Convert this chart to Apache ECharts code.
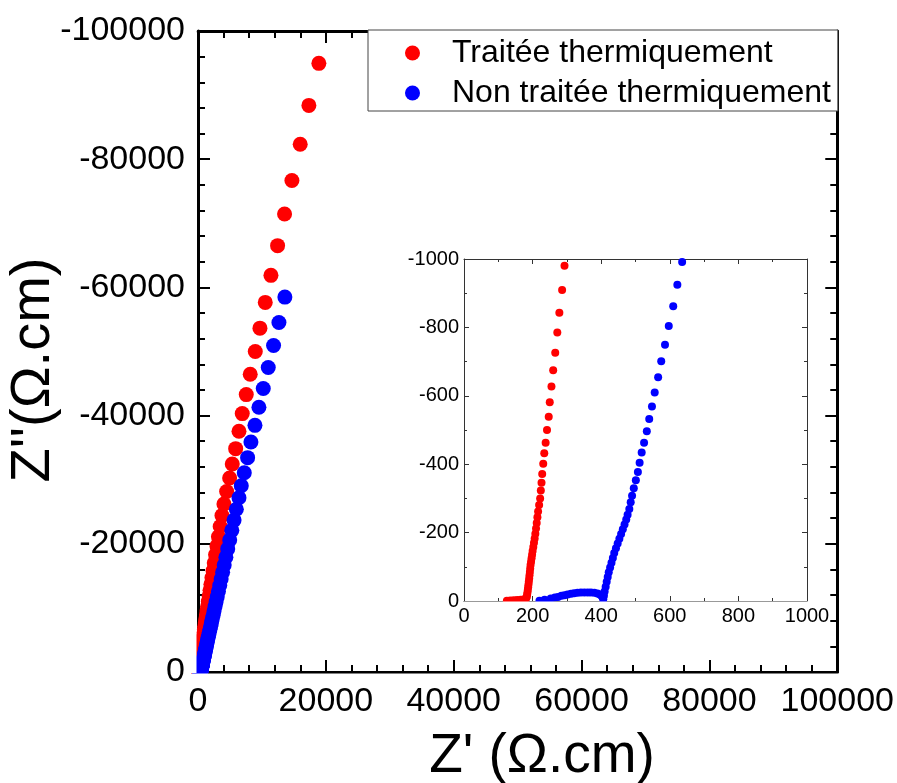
<!DOCTYPE html>
<html>
<head>
<meta charset="utf-8">
<script src="https://cdn.jsdelivr.net/npm/echarts@6/dist/echarts.min.js"></script>
<style>
html,body{margin:0;padding:0;background:#fff;}
#chart{width:897px;height:783px;}
</style>
</head>
<body>
<div id="chart"></div>
<script>
// ---- Data (Z' in Ω.cm, Z'' in Ω.cm) ----
const seriesNames = ['Traitée thermiquement', 'Non traitée thermiquement'];

const redX = [18906,17344,15990,14690,13540,12450,11410,10520,9690,8960,8170,7550,6920,6410,5890,5360,4950,4480,4060,
  3750,3470,3200,2960,2745,2540,2350,2180,2020,1880,1740,1615,1505,1405,1310,1220,1140,1065,995,935,880,825,775,730,690,650,615,585,555,525,500,478,457,436,418,400,386,371,357,345,334,324,314,303,
  293,286,278,272,266,260,255,250,247,242,238,234,231,228,226,224,222,219,
  216,214,212,210,208,206,204,202,200,198.5,197,195.5,194,193,192,191,190,189,188,187,186,185,184,183,181,
  175,165,155,145,135,125];
const redY = [-94950,-88390,-82340,-76670,-71450,-66510,-61880,-57660,-53640,-50000,-46450,-43280,-40310,-37550,-34840,-32450,-30270,-28170,-26200,
  -24400,-22700,-21100,-19650,-18300,-17000,-15800,-14700,-13700,-12750,-11850,-11000,-10250,-9550,-8880,-8260,-7690,-7150,-6650,-6190,-5760,-5360,-4990,-4640,-4320,-4020,-3740,-3480,-3240,-3010,-2800,-2610,-2430,-2260,-2100,-1950,-1820,-1690,-1570,-1460,-1360,-1265,-1175,-1080,
  -980,-909,-843,-785,-726,-675,-627,-581,-539,-500,-463,-432,-401,-371,-346,-323,-300,-281,
  -262,-245,-228,-212,-197,-183,-170,-158,-146,-135,-125,-115,-105,-95,-85,-75,-66,-57,-48,-40,-32,-25,-18,-12,-7,
  -5,-4,-3,-2,-1.5,-1];

const blueX = [13590,12660,11820,10990,10210,9530,8910,8280,7760,7240,6770,6410,
  6000,5640,5290,4960,4650,4360,4100,3850,3620,3400,3200,3010,2830,2670,2510,2370,2230,2110,1990,1880,1770,1680,1590,1510,1435,1370,1306,1248,1192,1140,1090,1044,1002,962,925,890,857,826,798,772,748,725,703,682,664,648,
  636,622,610,597,586,575,566,556,548,540,533,525,518,512,507,501,495,490,486,482,
  477,473,468,463,458,453,448,443,438,434,430,426,422,419,416,413,410,408,406,
  404,401,396,389,380,370,361,351,341,331,321,312,302,293,284,274,265,253,235,220];
const blueY = [-58490,-54530,-50940,-47500,-44220,-41300,-38480,-35890,-33440,-31090,-29060,-27190,
  -25400,-23700,-22100,-20600,-19200,-17900,-16700,-15550,-14500,-13500,-12600,-11750,-10950,-10200,-9500,-8850,-8250,-7700,-7150,-6650,-6200,-5780,-5380,-5010,-4670,-4350,-4050,-3780,-3520,-3280,-3050,-2840,-2650,-2470,-2300,-2140,-1990,-1850,-1720,-1600,-1490,-1390,-1290,-1200,-1120,-1050,
  -991,-925,-862,-804,-749,-701,-654,-610,-569,-532,-496,-463,-434,-404,-377,-353,-330,-308,-289,-269,
  -252,-238,-224,-210,-196,-182,-168,-154,-140,-126,-112,-98,-84,-70,-56,-42,-28,-15,-5,
  -11,-15,-19,-22,-24,-25,-25,-25,-25,-24,-23,-21,-19,-17,-15,-12,-10,-7,-4,-1];

// axis ranges / ticks
const mainXRange = [0, 100000], mainYRange = [-100000, 0], mainStep = 20000;
const insetXRange = [0, 1000], insetYRange = [-1000, 0], insetStep = 200;
const xTitle = "Z' (Ω.cm)";
const yTitle = "Z''(Ω.cm)";

// ---- Build ----
const zip = (xs, ys) => xs.map((x, i) => [x, ys[i]]);
const FONT = 'Liberation Sans, Arial, sans-serif';
const fmt = v => String(v);

function mainAxis(gridIndex, pos, range, showLabel, extra) {
  return Object.assign({
    type: 'value', gridIndex, position: pos,
    min: range[0], max: range[1], interval: mainStep,
    axisLine: { show: true, onZero: false, lineStyle: { color: '#000', width: 3 } },
    axisTick: { show: true, inside: true, length: 12, lineStyle: { color: '#000', width: 2 } },
    minorTick: { show: true, splitNumber: 5, length: 7, lineStyle: { color: '#000', width: 2 } },
    splitLine: { show: false }, minorSplitLine: { show: false },
    axisLabel: { show: showLabel, fontSize: 34, color: '#000', fontFamily: FONT, margin: 13, formatter: fmt }
  }, extra || {});
}
function insetAxis(gridIndex, pos, range, showLabel, extra) {
  return Object.assign({
    type: 'value', gridIndex, position: pos,
    min: range[0], max: range[1], interval: insetStep,
    axisLine: { show: true, onZero: false, lineStyle: { color: '#333', width: 1 } },
    axisTick: { show: true, inside: true, length: 5, lineStyle: { color: '#333', width: 1 } },
    minorTick: { show: true, splitNumber: 2, length: 3, lineStyle: { color: '#333', width: 1 } },
    splitLine: { show: false }, minorSplitLine: { show: false },
    axisLabel: { show: showLabel, fontSize: 20, color: '#000', fontFamily: FONT, margin: 5, formatter: fmt }
  }, extra || {});
}

const chart = echarts.init(document.getElementById('chart'), null, { renderer: 'canvas' });
chart.setOption({
  animation: false,
  backgroundColor: '#fff',
  grid: [
    { left: 198, top: 31, width: 641, height: 641 },
    { left: 464, top: 259, width: 343, height: 342, show: true, backgroundColor: '#fff', borderWidth: 0 }
  ],
  xAxis: [
    mainAxis(0, 'bottom', mainXRange, true),
    mainAxis(0, 'top', mainXRange, false),
    insetAxis(1, 'bottom', insetXRange, true),
    insetAxis(1, 'top', insetXRange, false)
  ],
  yAxis: [
    mainAxis(0, 'left', mainYRange, true, { inverse: true }),
    mainAxis(0, 'right', mainYRange, false, { inverse: true }),
    insetAxis(1, 'left', insetYRange, true, { inverse: true }),
    insetAxis(1, 'right', insetYRange, false, { inverse: true })
  ],
  legend: {
    data: seriesNames,
    orient: 'vertical', left: 368, top: 30,
    icon: 'circle', itemWidth: 15, itemHeight: 15, itemGap: 6,
    padding: [6, 7, 1, 37],
    borderColor: '#444', borderWidth: 1, backgroundColor: '#fff',
    selectedMode: false,
    textStyle: { fontSize: 32, color: '#000', fontFamily: FONT, lineHeight: 34, padding: [0, 0, 0, 27] }
  },
  series: [
    { name: seriesNames[0], type: 'scatter', xAxisIndex: 0, yAxisIndex: 0, data: zip(redX, redY), symbolSize: 15, itemStyle: { color: '#ff0000', opacity: 1 } },
    { name: seriesNames[1], type: 'scatter', xAxisIndex: 0, yAxisIndex: 0, data: zip(blueX, blueY), symbolSize: 15, itemStyle: { color: '#0000ff', opacity: 1 } },
    { name: seriesNames[0], type: 'scatter', xAxisIndex: 2, yAxisIndex: 2, data: zip(redX, redY), symbolSize: 8, itemStyle: { color: '#ff0000', opacity: 1 } },
    { name: seriesNames[1], type: 'scatter', xAxisIndex: 2, yAxisIndex: 2, data: zip(blueX, blueY), symbolSize: 8, itemStyle: { color: '#0000ff', opacity: 1 } }
  ],
  graphic: [
    // masks so marks do not spill past the axes (clipped look)
    { type: 'rect', z: 100, silent: true, shape: { x: 188, y: 25, width: 8.5, height: 648 }, style: { fill: '#fff' } },
    { type: 'rect', z: 100, silent: true, shape: { x: 188, y: 673.5, width: 653, height: 11 }, style: { fill: '#fff' } },
    { type: 'rect', z: 100, silent: true, shape: { x: 464, y: 601.5, width: 344, height: 4 }, style: { fill: '#fff' } },
    // axis titles
    { type: 'text', z: 100, x: 542, y: 757, style: { text: xTitle, fontSize: 55, fill: '#000', fontFamily: FONT, align: 'center', verticalAlign: 'middle' } },
    { type: 'text', z: 100, x: 34, y: 370, rotation: Math.PI / 2, style: { text: yTitle, fontSize: 56, fill: '#000', fontFamily: FONT, align: 'center', verticalAlign: 'middle' } }
  ]
});
</script>
</body>
</html>
